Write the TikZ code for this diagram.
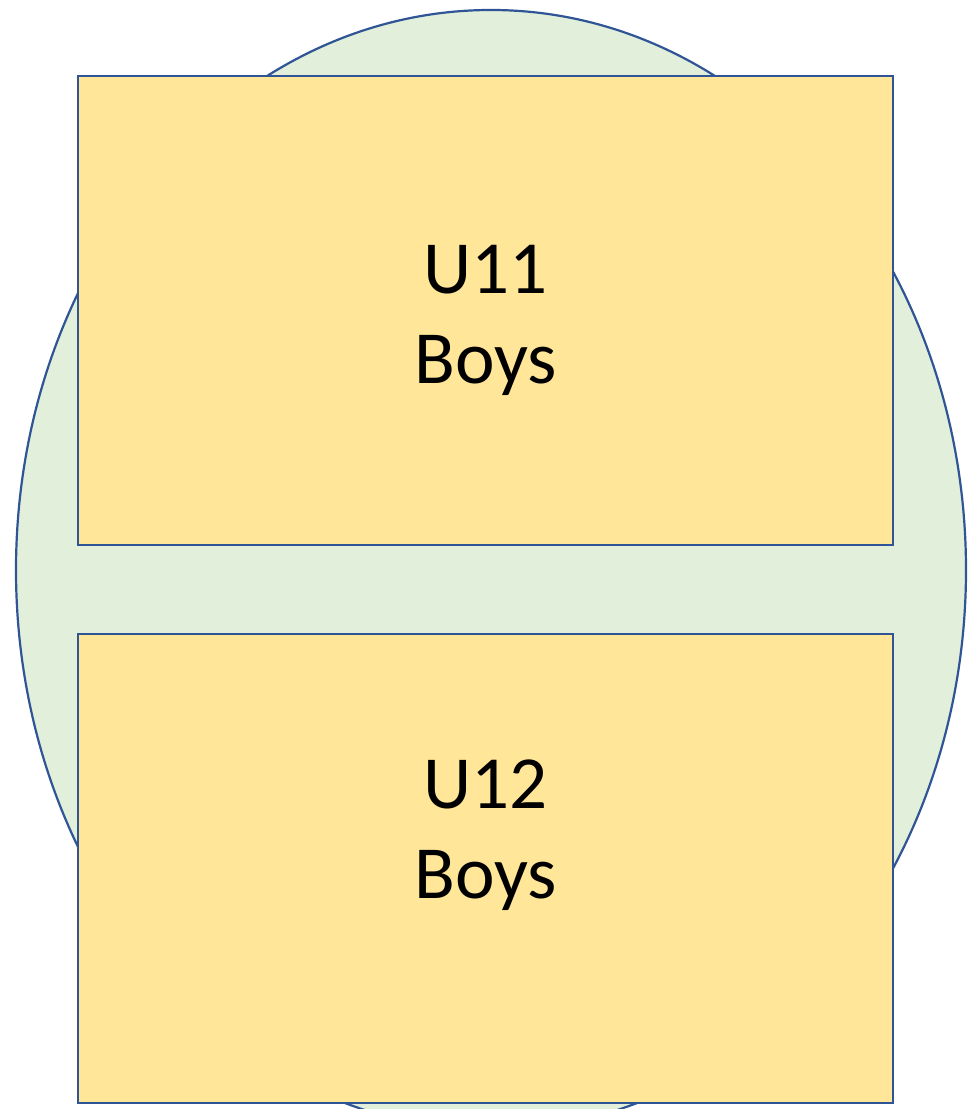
\documentclass[tikz,border=0pt]{standalone}
\usepackage{fontspec}
\setmainfont{Carlito}
\usetikzlibrary{shapes.geometric}
\definecolor{edge}{HTML}{2F5597}
\definecolor{greenfill}{HTML}{E2EFDA}
\definecolor{yellowfill}{HTML}{FFE699}
\begin{document}
\begin{tikzpicture}[x=1pt,y=1pt,
  box/.style={draw=edge,line width=2.2pt,fill=yellowfill,minimum width=815pt,minimum height=469pt,inner sep=0pt},
  lbl/.style={align=center,inner sep=0pt,font=\fontsize{75}{90}\selectfont}]
\useasboundingbox (0,0) rectangle (974,1109);
\begin{scope}
\clip (0,0) rectangle (974,1109);
\node[draw=edge,line width=2.2pt,fill=greenfill,ellipse,minimum width=950pt,minimum height=1120pt,inner sep=0pt] (oval) at (491,539) {};
\end{scope}
\node[box] (u11) at (485.5,798.5) {};
\node[box] (u12) at (485.5,240.5) {};
\node[lbl] (u11t) at (485.5,788.5) {U11\\Boys};
\node[lbl] (u12t) at (485.5,273.5) {U12\\Boys};
\end{tikzpicture}
\end{document}
